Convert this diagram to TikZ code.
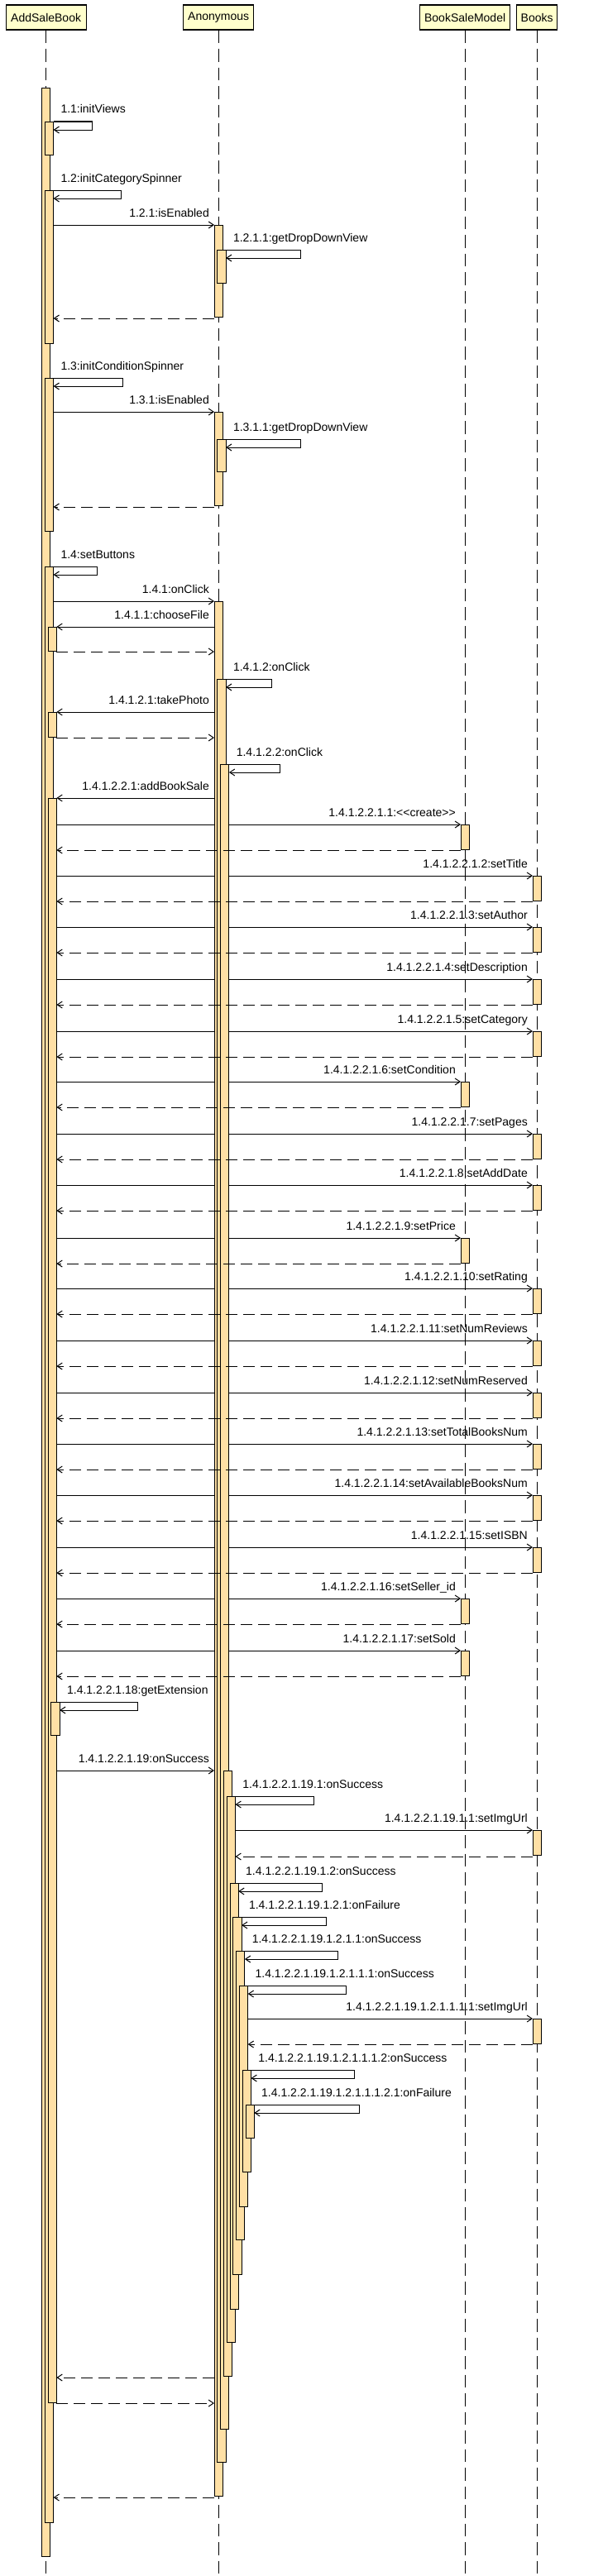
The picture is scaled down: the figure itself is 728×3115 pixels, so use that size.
\documentclass[tikz,border=0pt]{standalone}
\usepackage{fontspec}
\setmainfont{Liberation Sans}
\usetikzlibrary{arrows.meta}
\definecolor{headfill}{RGB}{255,255,204}
\definecolor{actfill}{RGB}{255,224,165}
\pgfdeclarelayer{bg}
\pgfdeclarelayer{fg}
\pgfsetlayers{bg,main,fg}
\tikzset{
  headbox/.style={draw, line width=1.2pt, fill=headfill, minimum height=30pt, inner sep=0pt, font=\fontsize{14}{16}\selectfont},
  lifeline/.style={line width=1pt, dash pattern=on 15.5pt off 7pt},
  actbox/.style={draw, fill=actfill, line width=0.9pt, minimum width=10.3pt, inner sep=0pt, outer sep=0pt},
  callarrow/.style={line width=1pt, -{Straight Barb[length=6pt,width=8pt]}},
  retarrow/.style={callarrow, dash pattern=on 14pt off 7pt},
  lbl/.style={font=\fontsize{14}{16}\selectfont, inner sep=0pt},
}
\newcommand{\callmsg}[5]{%
  \begin{pgfonlayer}{bg}
  \coordinate (#1s) at (#3,#2);
  \coordinate (#1t) at (#4,#2);
  \draw[callarrow] (#1s) -- (#1t);
  \end{pgfonlayer}
  \pgfmathsetmacro{\lblx}{max(#3,#4)-6}
  \node[lbl, anchor=base east] (#1l) at (\lblx,#2-10) {#5};
}
\newcommand{\retmsg}[4]{%
  \begin{pgfonlayer}{fg}
  \coordinate (#1s) at (#3,#2);
  \coordinate (#1t) at (#4,#2);
  \draw[retarrow] (#1s) -- (#1t);
  \end{pgfonlayer}
}
\newcommand{\actv}[4]{%
  \pgfmathsetmacro{\acth}{#4-#3}
  \node[actbox, minimum height=\acth pt, anchor=north west] (#1) at (#2,#3) {};
}
\newcommand{\selfmsg}[7]{%
  \begin{pgfonlayer}{bg}
  \coordinate (#1a) at (#2,#4);
  \coordinate (#1b) at (#3,#4);
  \coordinate (#1c) at (#3,#5);
  \coordinate (#1d) at (#2,#5);
  \draw[callarrow] (#1a) -- (#1b) -- (#1c) -- (#1d);
  \end{pgfonlayer}
  \node[lbl, anchor=base west] (#1l) at (#6,#4-10) {#7};
}
\newcommand{\datamsg}[4]{%
  \callmsg{#1}{#2}{68.4}{#3}{#4}
  \actv{#1act}{#3}{#2}{#2+30}
  \retmsg{#1r}{#2+31}{#3}{68.4}
}
\begin{document}
\begin{tikzpicture}[x=1pt,y=-1pt]
\useasboundingbox (0,0) rectangle (728,3115);
% heads
\node[headbox, minimum width=97pt] (hA) at (55.65,21) {AddSaleBook};
\node[headbox, minimum width=85pt] (hN) at (264.15,21) {Anonymous};
\node[headbox, minimum width=109pt] (hM) at (562.15,21) {BookSaleModel};
\node[headbox, minimum width=49pt] (hB) at (649.15,21) {Books};
\coordinate (eA) at (55.65,3115);
\coordinate (eN) at (264.15,3115);
\coordinate (eM) at (562.15,3115);
\coordinate (eB) at (649.15,3115);
\begin{pgfonlayer}{bg}
\draw[lifeline] (hA.south) -- (eA);
\draw[lifeline] (hN.south) -- (eN);
\draw[lifeline] (hM.south) -- (eM);
\draw[lifeline] (hB.south) -- (eB);
\end{pgfonlayer}
% AddSaleBook activations
\actv{a1}{50.5}{106}{3091}
\actv{a2a}{54.3}{147}{187}
\actv{a2b}{54.3}{230}{415}
\actv{a2c}{54.3}{457}{642}
\actv{a2d}{54.3}{685}{3050}
\actv{a3a}{58.1}{758}{787}
\actv{a3b}{58.1}{861}{891}
\actv{a3c}{58.1}{965}{2905}
\actv{a4a}{61.9}{2058}{2098}
% Anonymous activations
\actv{n1a}{259}{272}{383}
\actv{n2a}{262.8}{302}{342}
\actv{n1b}{259}{498}{611}
\actv{n2b}{262.8}{531}{570}
\actv{n1c}{259}{727}{3018}
\actv{n2c}{262.8}{821}{2977}
\actv{n3c}{266.6}{924}{2937}
\actv{n4c}{270.4}{2141}{2873}
\actv{n5c}{274.2}{2172}{2832}
\actv{n6c}{278}{2277}{2792}
\actv{n7c}{281.8}{2318}{2750}
\actv{n8c}{285.6}{2359}{2708}
\actv{n9c}{289.4}{2401}{2668}
\actv{n10c}{293.2}{2503}{2626}
\actv{n11c}{297}{2545}{2585}
% self messages
\selfmsg{s11}{64.6}{111}{147}{157}{73.3}{1.1:initViews}
\selfmsg{s12}{64.6}{146}{230}{240}{73.3}{1.2:initCategorySpinner}
\selfmsg{s1211}{273.1}{363}{302}{312}{281.8}{1.2.1.1:getDropDownView}
\selfmsg{s13}{64.6}{148}{457}{467}{73.3}{1.3:initConditionSpinner}
\selfmsg{s1311}{273.1}{363}{531}{541}{281.8}{1.3.1.1:getDropDownView}
\selfmsg{s14}{64.6}{117}{685}{695}{73.3}{1.4:setButtons}
\selfmsg{s1412}{273.1}{328}{821}{831}{281.8}{1.4.1.2:onClick}
\selfmsg{s14122}{276.9}{338}{924}{934}{285.6}{1.4.1.2.2:onClick}
\selfmsg{s18}{72.2}{166}{2058}{2068}{80.9}{1.4.1.2.2.1.18:getExtension}
\selfmsg{s191}{284.5}{379}{2172}{2182}{293.2}{1.4.1.2.2.1.19.1:onSuccess}
\selfmsg{s1912}{288.3}{389}{2277}{2287}{297}{1.4.1.2.2.1.19.1.2:onSuccess}
\selfmsg{s19121}{292.1}{394}{2318}{2328}{300.8}{1.4.1.2.2.1.19.1.2.1:onFailure}
\selfmsg{s191211}{295.9}{408}{2359}{2369}{304.6}{1.4.1.2.2.1.19.1.2.1.1:onSuccess}
\selfmsg{s1912111}{299.7}{418}{2401}{2411}{308.4}{1.4.1.2.2.1.19.1.2.1.1.1:onSuccess}
\selfmsg{s19121112}{303.5}{428}{2503}{2513}{312.2}{1.4.1.2.2.1.19.1.2.1.1.1.2:onSuccess}
\selfmsg{s191211121}{307.3}{434}{2545}{2555}{316}{1.4.1.2.2.1.19.1.2.1.1.1.2.1:onFailure}
% calls between AddSaleBook and Anonymous
\callmsg{c121}{272}{64.6}{259}{1.2.1:isEnabled}
\retmsg{r121}{385}{259}{64.6}
\callmsg{c131}{498}{64.6}{259}{1.3.1:isEnabled}
\retmsg{r131}{613}{259}{64.6}
\callmsg{c141}{727}{64.6}{259}{1.4.1:onClick}
\callmsg{c1411}{758}{259}{68.4}{1.4.1.1:chooseFile}
\retmsg{r1411}{788}{68.4}{259}
\callmsg{c14121}{861}{259}{68.4}{1.4.1.2.1:takePhoto}
\retmsg{r14121}{892}{68.4}{259}
\callmsg{c141221}{965}{259}{68.4}{1.4.1.2.2.1:addBookSale}
% data messages
\datamsg{d1}{997}{557}{1.4.1.2.2.1.1:<\kern0pt<create>\kern0pt>}
\datamsg{d2}{1059}{644}{1.4.1.2.2.1.2:setTitle}
\datamsg{d3}{1121}{644}{1.4.1.2.2.1.3:setAuthor}
\datamsg{d4}{1184}{644}{1.4.1.2.2.1.4:setDescription}
\datamsg{d5}{1247}{644}{1.4.1.2.2.1.5:setCategory}
\datamsg{d6}{1308}{557}{1.4.1.2.2.1.6:setCondition}
\datamsg{d7}{1371}{644}{1.4.1.2.2.1.7:setPages}
\datamsg{d8}{1433}{644}{1.4.1.2.2.1.8:setAddDate}
\datamsg{d9}{1497}{557}{1.4.1.2.2.1.9:setPrice}
\datamsg{d10}{1558}{644}{1.4.1.2.2.1.10:setRating}
\datamsg{d11}{1621}{644}{1.4.1.2.2.1.11:setNumReviews}
\datamsg{d12}{1684}{644}{1.4.1.2.2.1.12:setNumReserved}
\datamsg{d13}{1746}{644}{1.4.1.2.2.1.13:setTotalBooksNum}
\datamsg{d14}{1808}{644}{1.4.1.2.2.1.14:setAvailableBooksNum}
\datamsg{d15}{1871}{644}{1.4.1.2.2.1.15:setISBN}
\datamsg{d16}{1933}{557}{1.4.1.2.2.1.16:setSeller\_id}
\datamsg{d17}{1996}{557}{1.4.1.2.2.1.17:setSold}
% onSuccess chain
\callmsg{c19}{2141}{68.4}{259}{1.4.1.2.2.1.19:onSuccess}
\callmsg{c1911}{2213}{284.5}{644}{1.4.1.2.2.1.19.1.1:setImgUrl}
\actv{b1911}{644}{2213}{2243}
\retmsg{r1911}{2245}{644}{284.5}
\callmsg{c19121111}{2441}{299.7}{644}{1.4.1.2.2.1.19.1.2.1.1.1.1:setImgUrl}
\actv{b19121111}{644}{2441}{2471}
\retmsg{r19121111}{2472}{644}{299.7}
% final returns
\retmsg{r19}{2875}{259}{68.4}
\retmsg{r141221}{2906}{68.4}{259}
\retmsg{r141}{3020}{259}{64.6}
\end{tikzpicture}
\end{document}
